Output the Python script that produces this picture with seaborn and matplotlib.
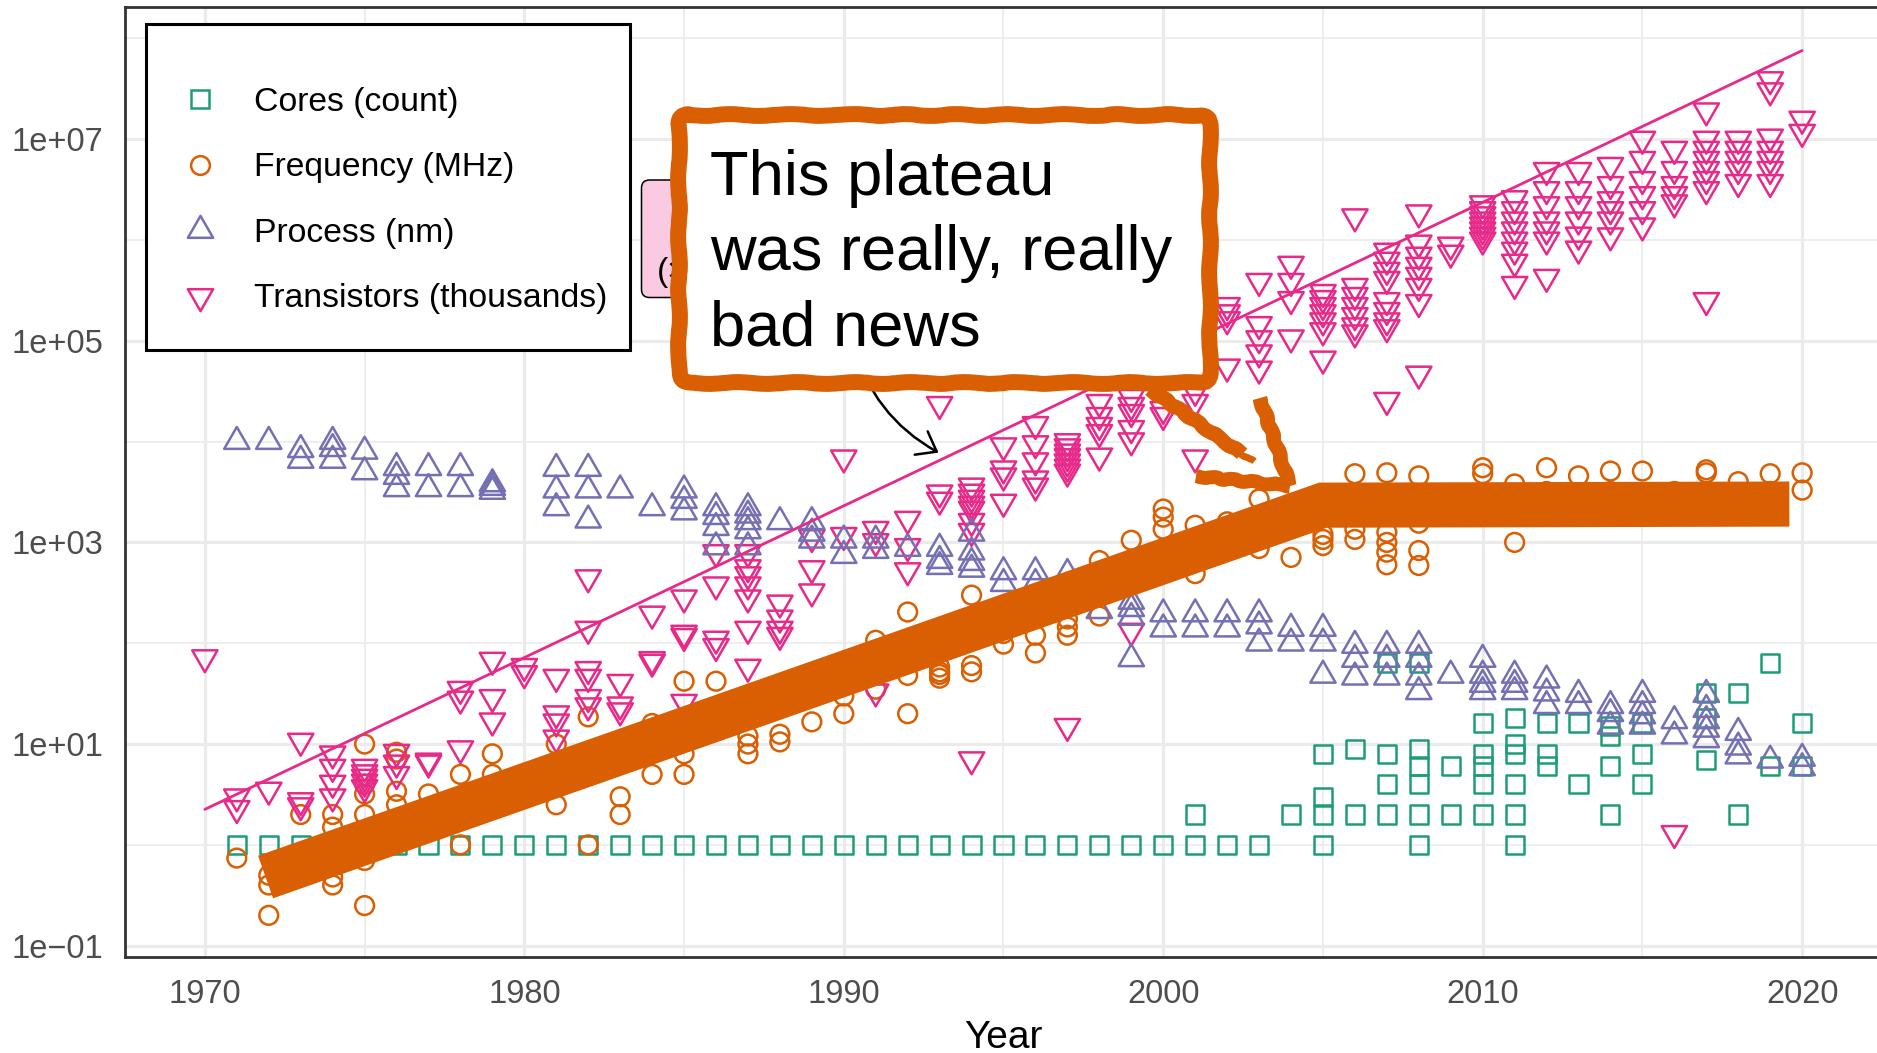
import matplotlib
matplotlib.use("Agg")
import matplotlib.pyplot as plt
import seaborn as sns
import pandas as pd
from matplotlib.path import Path
from matplotlib.patches import FancyBboxPatch, FancyArrowPatch, Rectangle
from matplotlib.lines import Line2D
from matplotlib.transforms import Affine2D
from matplotlib.ticker import NullFormatter

# ---------------- data ----------------
cores_count = [
    (1971, [1]), (1972, [1]), (1973, [1]), (1974, [1]), (1975, [1]), (1976, [1]),
    (1977, [1]), (1978, [1]), (1979, [1]), (1980, [1]), (1981, [1]), (1982, [1]),
    (1983, [1]), (1984, [1]), (1985, [1]), (1986, [1]), (1987, [1]), (1988, [1]),
    (1989, [1]), (1990, [1]), (1991, [1]), (1992, [1]), (1993, [1]), (1994, [1]),
    (1995, [1]), (1996, [1]), (1997, [1]), (1998, [1]), (1999, [1]), (2000, [1]),
    (2001, [2, 1]), (2002, [1]), (2003, [1]), (2004, [2]), (2005, [8, 3, 2, 1]),
    (2006, [9, 2]), (2007, [64, 8, 4, 2]), (2008, [64, 9, 6, 4, 2, 1]), (2009, [6, 2]),
    (2010, [16, 8, 6, 4, 2]), (2011, [18, 10, 8, 4, 2, 1]), (2012, [16, 8, 6]),
    (2013, [16, 4]), (2014, [15, 12, 6, 2]), (2015, [16, 8, 4]), (2017, [32, 18, 7]),
    (2018, [32, 2]), (2019, [64, 6]), (2020, [16, 6]),
]

frequency_mhz = [
    (1971, [0.74]), (1972, [0.5, 0.4, 0.2]), (1973, [2]), (1974, [2, 1.5, 0.48, 0.4]),
    (1975, [10, 4, 3.2, 2, 0.7, 0.25]), (1976, [8.3, 7.1, 3.4, 2.5]), (1977, [3.2]),
    (1978, [5, 1]), (1979, [8, 5]), (1981, [10, 2.5]), (1982, [18.6, 1]), (1983, [3, 2]),
    (1984, [16, 5]), (1985, [42, 8, 5]), (1986, [42, 16]), (1987, [12, 10, 8]),
    (1988, [12.5, 10.5]), (1989, [16.6]), (1990, [30, 20]), (1991, [107, 35]),
    (1992, [204, 48, 20]), (1993, [58, 52, 49, 45]), (1994, [300, 60, 52]),
    (1995, [98, 125]), (1996, [120, 80, 200]), (1997, [174, 145, 120]), (1998, [660, 186]),
    (1999, [1050, 500]), (2000, [2140, 1780, 1350]), (2001, [1480, 490]),
    (2002, [1200, 1600]), (2003, [2700, 870]), (2004, [2000, 710]),
    (2005, [1200, 1070, 930]), (2006, [4800, 1350, 1070]), (2007, [4900, 1260, 1000, 800, 600]),
    (2008, [4570, 1550, 830, 590]), (2009, [2500, 2000]), (2010, [5500, 4800, 2500]),
    (2011, [3800, 1000, 2500]), (2012, [5500, 3200]), (2013, [4570, 2800]),
    (2014, [5100, 3200]), (2015, [5100, 2800]), (2016, [3200]), (2017, [5250, 4900, 3200]),
    (2018, [4000, 2500]), (2019, [4800, 3200]), (2020, [4900, 3300]),
]

process_nm = [
    (1971, [10000]), (1972, [10000]), (1973, [8300, 6500]), (1974, [10000, 8500, 6500]),
    (1975, [8000, 5000]), (1976, [5500, 4500, 3400]), (1977, [5500, 3400]),
    (1978, [5500, 3400]), (1979, [3800, 3500, 3200]), (1981, [5400, 3300, 2200]),
    (1982, [5400, 3300, 1660]), (1983, [3300]), (1984, [2200]), (1985, [3300, 2600, 2000]),
    (1986, [2200, 1800, 1400, 900]), (1987, [2200, 1860, 1600, 1300, 900]), (1988, [1600]),
    (1989, [1600, 1230, 1050]), (1990, [1050, 740]), (1991, [1050, 830]), (1992, [870]),
    (1993, [870, 660, 575]), (1994, [1230, 800, 630, 540]), (1995, [510, 390]),
    (1996, [510, 390]), (1997, [490, 355]), (1998, [210]), (1999, [260, 220, 180, 70]),
    (2000, [195, 138]), (2001, [195, 138]), (2002, [195, 138]), (2003, [195, 148, 100]),
    (2004, [140, 100]), (2005, [140, 100, 48]), (2006, [95, 69, 46]), (2007, [95, 69, 46]),
    (2008, [95, 69, 46, 33]), (2009, [48]), (2010, [69, 48, 39, 33]), (2011, [48, 39, 33]),
    (2012, [43, 32, 24]), (2013, [31, 24]), (2014, [24, 20, 15]), (2015, [31, 24, 19, 15]),
    (2016, [17, 12]), (2017, [31, 22, 17, 14, 11]), (2018, [13, 9.3, 7.6]), (2019, [6.9]),
    (2020, [7.2, 5.8]),
]

transistors_k = [
    (1970, [72]), (1971, [3.0, 2.3]), (1972, [3.5]), (1973, [10.7, 2.75, 2.45]),
    (1974, [8, 5.9, 4.1, 3.0]), (1975, [5.9, 5.2, 4.7, 4.2, 3.7]), (1976, [8.3, 6.5, 5.0]),
    (1977, [6.8, 6.5]), (1978, [35, 28, 9]), (1979, [68, 29, 17]), (1980, [59, 50]),
    (1981, [46, 20, 16.6, 11.5]), (1982, [447, 138, 55, 46, 29, 24]), (1983, [41, 24.5, 21.4]),
    (1984, [195, 69, 65]), (1985, [282, 126, 117, 26]), (1986, [794, 380, 110, 93]),
    (1987, [794, 562, 479, 380, 282, 138, 58]), (1988, [251, 178, 138, 120]),
    (1989, [1120, 550, 324]), (1990, [6900, 1175]), (1991, [1350, 1020, 33]),
    (1992, [1700, 912, 525]), (1993, [23400, 3100, 2630]),
    (1994, [3630, 3160, 2750, 2400, 2140, 1620, 1290, 7]), (1995, [9100, 5370, 4570, 2510]),
    (1996, [14800, 9550, 6460, 4270, 3630]), (1997, [10000, 8900, 7900, 7100, 6300, 5600, 5000, 15]),
    (1998, [24500, 18200, 14500, 12300, 7200]), (1999, [27500, 22900, 19500, 13500, 10200, 132]),
    (2000, [40000, 20900, 18200]), (2001, [31600, 24500, 6900]),
    (2002, [224000, 190000, 162000, 55000]), (2003, [389000, 145000, 105000, 76000, 52500]),
    (2004, [575000, 389000, 257000, 107000]),
    (2005, [302000, 263000, 224000, 190000, 158000, 126000, 66000]),
    (2006, [1700000, 347000, 282000, 224000, 178000, 141000, 120000]),
    (2007, [776000, 631000, 501000, 407000, 251000, 200000, 158000, 135000, 25700]),
    (2008, [1860000, 933000, 708000, 562000, 447000, 347000, 240000, 46800]),
    (2009, [891000, 741000]),
    (2010, [2290000, 2000000, 1780000, 1580000, 1410000, 1260000, 1120000, 1000000]),
    (2011, [2570000, 2000000, 1580000, 1260000, 1000000, 794000, 603000, 363000]),
    (2012, [4900000, 3160000, 2240000, 1580000, 1260000, 1000000, 427000]),
    (2013, [4900000, 3160000, 2240000, 1580000, 1120000, 813000]),
    (2014, [5500000, 3550000, 2510000, 2000000, 1580000, 1100000]),
    (2015, [10000000, 6310000, 3980000, 2820000, 2000000, 1380000]),
    (2016, [7940000, 5010000, 3550000, 2820000, 2340000, 1.3]),
    (2017, [19100000, 10000000, 7940000, 6310000, 5010000, 3980000, 3160000, 251000]),
    (2018, [10000000, 7940000, 6310000, 5010000, 3720000]),
    (2019, [38900000, 30200000, 10500000, 7940000, 6310000, 5010000, 3720000]),
    (2020, [15800000, 11700000]),
]

# Moore's-law reference line (transistors, thousands)
trend_year = [1970, 2020]
trend_value = [2.25, 7.55e7]

# hand-drawn "plateau" band (frequency, MHz)
band_year = [1971.9, 2005.0, 2019.6]
band_value = [0.48, 2340, 2400]

x_major = [1970, 1980, 1990, 2000, 2010, 2020]
x_minor = [1975, 1985, 1995, 2005, 2015]
y_major = [1e-1, 1e1, 1e3, 1e5, 1e7]
y_major_labels = ["1e\u221201", "1e+01", "1e+03", "1e+05", "1e+07"]
y_minor = [1e0, 1e2, 1e4, 1e6, 1e8]

legend_labels = ["Cores (count)", "Frequency (MHz)", "Process (nm)", "Transistors (thousands)"]
callout_lines = ["This plateau", "was really, really", "bad news"]
label_text = "(\u00d72"   # visible start of the label hidden behind the callout


def flatten(groups):
    ys, vs = [], []
    for yr, vals in groups:
        for v in vals:
            ys.append(yr)
            vs.append(v)
    return pd.DataFrame({"Year": ys, "Value": vs})


# ---------------- figure ----------------
W, H = 1877, 1053
sns.set_theme(style="white")
plt.rcParams["font.family"] = ["Liberation Sans", "DejaVu Sans"]

fig = plt.figure(figsize=(W / 100, H / 100), dpi=100)
fig.patch.set_facecolor("white")
AX_L, AX_R, AX_T, AX_B = 125, 1882, 7, 957
ax = fig.add_axes([AX_L / W, 1 - AX_B / H, (AX_R - AX_L) / W, (AX_B - AX_T) / H])
ax.set_facecolor("white")
ax.set_yscale("log")

# pixel transform (origin top-left, in output pixels)
PX = Affine2D().scale(1, -1).translate(0, H)

C_CORES, C_FREQ, C_PROC, C_TRANS = "#1B9E77", "#D95F02", "#7570B3", "#E7298A"
codes = [Path.MOVETO, Path.LINETO, Path.LINETO, Path.CLOSEPOLY]
TRI_UP = Path([(0, 1), (0.866, -0.5), (-0.866, -0.5), (0, 1)], codes)
TRI_DN = Path([(0, -1), (0.866, 0.5), (-0.866, 0.5), (0, -1)], codes)

MS_SQ, MS_CI, MS_TRI = 13.0, 13.5, 21.0
MEW = 1.8

series = [
    (cores_count, "s", MS_SQ, C_CORES),
    (frequency_mhz, "o", MS_CI, C_FREQ),
    (transistors_k, TRI_DN, MS_TRI, C_TRANS),
    (process_nm, TRI_UP, MS_TRI, C_PROC),
]
for i, (groups, mk, ms, col) in enumerate(series):
    df = flatten(groups)
    sns.scatterplot(data=df, x="Year", y="Value", marker=mk, s=ms ** 2,
                    facecolor="none", edgecolor=col, linewidth=MEW,
                    legend=False, ax=ax, zorder=2 + 0.1 * i)

sns.lineplot(x=trend_year, y=trend_value, color=C_TRANS, linewidth=2.0,
             estimator=None, sort=False, ax=ax, zorder=3)
sns.lineplot(x=band_year, y=band_value, color=C_FREQ, linewidth=32.5,
             estimator=None, sort=False, ax=ax, zorder=4,
             solid_capstyle="butt", solid_joinstyle="miter")

# ---------------- axes styling ----------------
ax.set_xlim(1967.5, 2022.5)
ax.set_ylim(10 ** -1.112, 10 ** 8.31)
ax.set_xticks(x_major)
ax.set_xticklabels([str(v) for v in x_major])
ax.set_xticks(x_minor, minor=True)
ax.set_yticks(y_major)
ax.set_yticklabels(y_major_labels)
ax.set_yticks(y_minor, minor=True)
ax.yaxis.set_minor_formatter(NullFormatter())
ax.xaxis.set_minor_formatter(NullFormatter())

ax.set_axisbelow(True)
ax.grid(True, which="major", color="#EBEBEB", linewidth=2.3)
ax.grid(True, which="minor", color="#EBEBEB", linewidth=1.2)
ax.tick_params(which="major", length=8, width=2, color="#333333",
               labelsize=23.5, labelcolor="#4D4D4D")
ax.tick_params(axis="x", which="major", pad=8)
ax.tick_params(axis="y", which="major", pad=7.3)
ax.tick_params(which="minor", length=0)
for sp in ax.spines.values():
    sp.set_color("#333333")
    sp.set_linewidth(2)
ax.set_xlabel("Year", fontsize=28, color="black", labelpad=7)
ax.set_ylabel("")

# ---------------- legend (drawn like the ggplot legend box) ----------------
fig.add_artist(Rectangle((146.4, 24), 484, 326, transform=PX, facecolor="white",
                         edgecolor="black", linewidth=2.2, zorder=9))
leg_markers = [("s", MS_SQ, C_CORES), ("o", MS_CI, C_FREQ),
               (TRI_UP, MS_TRI, C_PROC), (TRI_DN, MS_TRI, C_TRANS)]
row_y = [99, 164.7, 230.4, 296]
for (mk, ms, col), ry, lab in zip(leg_markers, row_y, legend_labels):
    fig.add_artist(Line2D([200], [ry], transform=PX, marker=mk, markersize=ms,
                          markerfacecolor="none", markeredgecolor=col,
                          markeredgewidth=MEW, linestyle="none", zorder=10))
    fig.text(254.5, ry + 11.5, lab, transform=PX, fontsize=24.3, color="black",
             ha="left", va="baseline", zorder=10)

# ---------------- pink label (mostly hidden behind the callout) ----------------
fig.add_artist(FancyBboxPatch((641.5, 180), 360, 117.5, transform=PX,
                              boxstyle="round,pad=0,rounding_size=8",
                              facecolor="#F9CAE2", edgecolor="black",
                              linewidth=1.1, zorder=5))
fig.text(657, 272, label_text, transform=PX, fontsize=24, color="black",
         ha="left", va="center", zorder=5.2)

# curved black arrow from the label to the trend line
fig.add_artist(FancyArrowPatch((852, 340), (941, 454), transform=PX,
                               arrowstyle="->,head_length=0.4,head_width=0.3",
                               mutation_scale=32, connectionstyle="arc3,rad=0.22",
                               color="black", linewidth=1.8, zorder=5.5))

# ---------------- hand-drawn callout ----------------
callout = FancyBboxPatch((679, 115), 531, 268, transform=PX,
                         boxstyle="round,pad=0,rounding_size=10",
                         facecolor="white", edgecolor=C_FREQ,
                         linewidth=11.5, joinstyle="round", zorder=7)
callout.set_sketch_params(scale=0.9, length=70, randomness=3)
fig.add_artist(callout)
for txt, base in zip(callout_lines, [195, 270, 345]):
    fig.text(710.5, base, txt, transform=PX, fontsize=45.5, color="black",
             ha="left", va="baseline", zorder=8)

# hand-drawn pointer from the callout to the plateau
pointer_strokes = [
    ([1150, 1242], [389, 454], 10.5),
    ([1236, 1254], [450, 462], 5.0),
    ([1260, 1290], [398, 486], 10.5),
    ([1196, 1290], [476, 486], 10.0),
]
for xs, ys, lw in pointer_strokes:
    ln = Line2D(xs, ys, transform=PX, color=C_FREQ, linewidth=lw,
                solid_capstyle="butt", zorder=6)
    ln.set_sketch_params(scale=1.0, length=30, randomness=4)
    fig.add_artist(ln)

fig.savefig("out.png", dpi=100, facecolor="white")
